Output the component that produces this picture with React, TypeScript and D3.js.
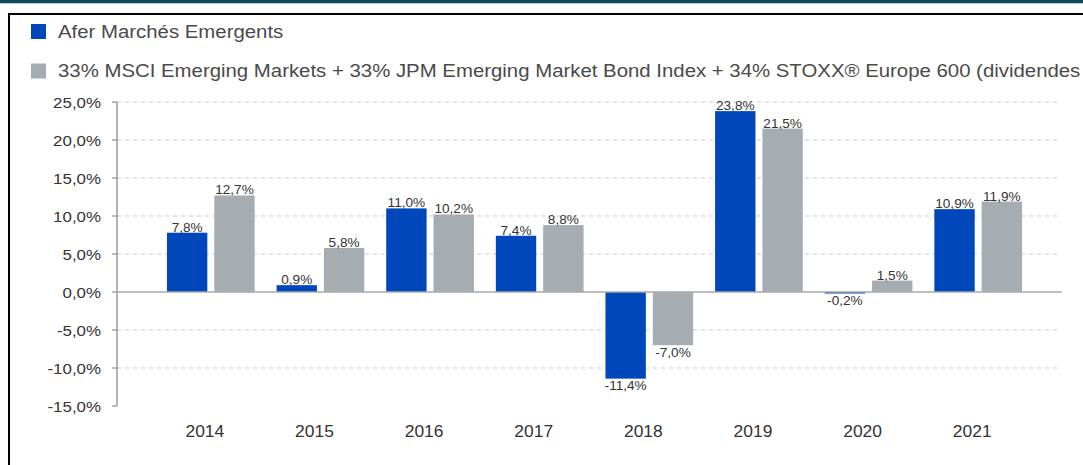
import React from "react";
import * as d3 from "d3";

const years = ["2014", "2015", "2016", "2017", "2018", "2019", "2020", "2021"];
const fundValues = [7.8, 0.9, 11.0, 7.4, -11.4, 23.8, -0.2, 10.9];
const indexValues = [12.7, 5.8, 10.2, 8.8, -7.0, 21.5, 1.5, 11.9];
const seriesNames = [
  "Afer Marchés Emergents",
  "33% MSCI Emerging Markets + 33% JPM Emerging Market Bond Index + 34% STOXX® Europe 600 (dividendes réinvestis)",
];
const seriesColors = ["#0047BB", "#A5ADB3"];
const yTicks = [25, 20, 15, 10, 5, 0, -5, -10, -15];

const W = 1083;
const H = 465;
const FONT = "'Liberation Sans', Arial, Helvetica, sans-serif";
const SX = 1.09;

const fmt = (v: number) => v.toFixed(1).replace(".", ",") + "%";

function SText({ x, y, size, anchor = "start", fill = "#333", children }: any) {
  return (
    <text
      transform={`translate(${x},${y}) scale(${SX},1)`}
      fontSize={size}
      fontFamily={FONT}
      textAnchor={anchor}
      fill={fill}
    >
      {children}
    </text>
  );
}

export default function App() {
  const y = d3.scaleLinear().domain([-15, 25]).range([406, 102]);
  const x0 = d3
    .scaleBand<string>()
    .domain(years)
    .range([156, 1033])
    .paddingInner(0.2)
    .paddingOuter(0.1);
  const x1 = d3
    .scaleBand<string>()
    .domain(["fund", "index"])
    .range([0, x0.bandwidth()])
    .paddingInner(0.147);
  const axisX = 117;
  const zero = y(0);

  const series = [
    { key: "fund", values: fundValues, color: seriesColors[0] },
    { key: "index", values: indexValues, color: seriesColors[1] },
  ];

  return (
    <svg
      width={W}
      height={H}
      style={{ position: "absolute", left: 0, top: 0, background: "#fff" }}
    >
      <rect x={0} y={0} width={W} height={H} fill="#fff" />
      {/* top teal band */}
      <rect x={0} y={0} width={W} height={3.3} fill="#0D4B5C" />
      {/* frame */}
      <line x1={8} x2={W} y1={14} y2={14} stroke="#000" strokeWidth={2} />
      <line x1={9} x2={9} y1={13} y2={H} stroke="#000" strokeWidth={2} />

      {/* legend */}
      {seriesNames.map((name, i) => (
        <g key={name}>
          <rect x={31} y={24 + i * 39.5} width={15} height={15} fill={seriesColors[i]} />
          <SText x={58} y={38 + i * 39} size={18.7} fill="#4a4a4a">
            {name}
          </SText>
        </g>
      ))}

      {/* gridlines */}
      {yTicks
        .filter((t) => t !== 0 && t !== -15)
        .map((t) => (
          <line
            key={"g" + t}
            x1={axisX}
            x2={1060}
            y1={y(t)}
            y2={y(t)}
            stroke="#C8C8C8"
            strokeWidth={1}
            strokeDasharray="4,4"
          />
        ))}

      {/* bars */}
      {years.map((yr, i) => (
        <g key={yr} transform={`translate(${x0(yr)},0)`}>
          {series.map((s) => {
            const v = s.values[i];
            const top = Math.min(y(v), zero);
            const h = Math.abs(y(v) - zero);
            return (
              <rect
                key={s.key}
                x={x1(s.key)}
                y={top}
                width={x1.bandwidth()}
                height={h}
                fill={s.color}
              />
            );
          })}
        </g>
      ))}

      {/* zero line */}
      <line x1={axisX} x2={1062} y1={zero} y2={zero} stroke="#A8A8A8" strokeWidth={1.5} />

      {/* y axis */}
      <line x1={axisX} x2={axisX} y1={y(25)} y2={y(-15)} stroke="#A0A0A0" strokeWidth={1.6} />
      {yTicks.map((t) => (
        <g key={"t" + t}>
          <line x1={axisX - 5} x2={axisX} y1={y(t)} y2={y(t)} stroke="#A0A0A0" strokeWidth={1.4} />
          <SText x={101} y={y(t) + 5.5} size={15.5} anchor="end" fill="#333">
            {fmt(t)}
          </SText>
        </g>
      ))}

      {/* value labels */}
      {years.map((yr, i) => (
        <g key={"l" + yr} transform={`translate(${x0(yr)},0)`}>
          {series.map((s) => {
            const v = s.values[i];
            const cx = (x1(s.key) as number) + x1.bandwidth() / 2;
            const ly = v >= 0 ? y(v) - 1 : y(v) + 11.5;
            return (
              <SText key={s.key} x={cx} y={ly} size={12.5} anchor="middle" fill="#333">
                {fmt(v)}
              </SText>
            );
          })}
        </g>
      ))}

      {/* x labels */}
      {years.map((yr) => (
        <SText
          key={"x" + yr}
          x={(x0(yr) as number) + x0.bandwidth() / 2 - 6}
          y={437}
          size={16}
          anchor="middle"
          fill="#333"
        >
          {yr}
        </SText>
      ))}
    </svg>
  );
}
